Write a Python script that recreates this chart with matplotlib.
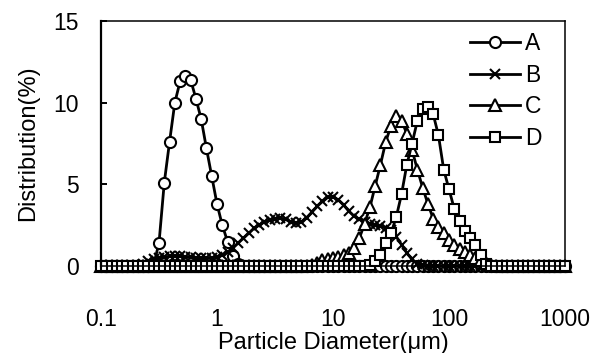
import matplotlib
matplotlib.use("Agg")
import matplotlib.pyplot as plt
from matplotlib.ticker import NullLocator, FixedLocator, FixedFormatter

plt.rcParams['font.family'] = ['Liberation Sans', 'DejaVu Sans']

# Particle diameter grid (um), 22 channels per decade, 0.1 - 1000
diameter = [
    0.1000, 0.1110, 0.1233, 0.1369, 0.1520, 0.1688, 0.1874, 0.2081, 0.2310, 0.2565, 0.2848,
    0.3162, 0.3511, 0.3899, 0.4329, 0.4806, 0.5337, 0.5926, 0.6579, 0.7305, 0.8111, 0.9006,
    1.000, 1.110, 1.233, 1.369, 1.520, 1.688, 1.874, 2.081, 2.310, 2.565, 2.848,
    3.162, 3.511, 3.899, 4.329, 4.806, 5.337, 5.926, 6.579, 7.305, 8.111, 9.006,
    10.00, 11.10, 12.33, 13.69, 15.20, 16.88, 18.74, 20.81, 23.10, 25.65, 28.48,
    31.62, 35.11, 38.99, 43.29, 48.06, 53.37, 59.26, 65.79, 73.05, 81.11, 90.06,
    100.0, 111.0, 123.3, 136.9, 152.0, 168.8, 187.4, 208.1, 231.0, 256.5, 284.8,
    316.2, 351.1, 389.9, 432.9, 480.6, 533.7, 592.6, 657.9, 730.5, 811.1, 900.6,
    1000.0,
]

series_a = ([0.0] * 10 +
            [0.1, 1.4, 5.1, 7.6, 10.0, 11.3, 11.65, 11.4, 10.25, 9.0, 7.2, 5.5, 3.8, 2.5, 1.5, 0.6, 0.1] +
            [0.0] * 62)
series_b = ([0.0] * 8 +
            [0.1, 0.3, 0.45, 0.5, 0.55, 0.6, 0.6, 0.6, 0.55, 0.55, 0.5, 0.5, 0.5, 0.5,
             0.55, 0.65, 0.85, 1.1, 1.4, 1.7, 2.0, 2.3, 2.5, 2.7,
             2.8, 2.9, 2.95, 2.85, 2.7, 2.65, 2.7, 2.95, 3.3, 3.65,
             3.95, 4.2, 4.25, 4.05, 3.75, 3.35, 3.05, 2.85, 2.7, 2.6,
             2.5, 2.45, 2.35, 2.2, 1.8, 1.3, 0.8, 0.4, 0.15, 0.05] +
            [0.0] * 27)
series_c = ([0.0] * 40 +
            [0.05, 0.2, 0.35, 0.45, 0.5, 0.55, 0.65, 0.8, 1.1, 1.7,
             2.6, 3.6, 4.9, 6.2, 7.6, 8.6, 9.2, 8.9, 8.1, 7.1,
             5.9, 4.8, 3.8, 2.9, 2.4, 2.0, 1.6, 1.3, 1.05, 0.85,
             0.65, 0.5, 0.35, 0.2, 0.08] +
            [0.0] * 14)
series_d = ([0.0] * 51 +
            [0.05, 0.3, 0.7, 1.4, 2.0, 3.0, 4.4, 6.2, 7.5, 8.9,
             9.6, 9.75, 9.3, 8.0, 5.9, 4.7, 3.5, 2.75, 2.15, 1.7,
             1.3, 0.65, 0.1] +
            [0.0] * 15)

labels = ['A', 'B', 'C', 'D']
markers = ['o', 'x', '^', 's']
sizes = [8.0, 6.5, 8.5, 7.4]
x_ticks = [0.1, 1, 10, 100, 1000]
x_tick_labels = ['0.1', '1', '10', '100', '1000']
y_ticks = [0, 5, 10, 15]

fig = plt.figure(figsize=(5.92, 3.53), dpi=100)
ax = fig.add_axes([101 / 592, 1 - 266 / 353, 464 / 592, 245 / 353])

for ys, lab, mk, ms in zip([series_a, series_b, series_c, series_d], labels, markers, sizes):
    ax.plot(diameter, ys, color='black', lw=2.0, marker=mk, ms=ms,
            mfc='white', mec='black', mew=1.5, label=lab, clip_on=False)

ax.set_xscale('log')
ax.set_xlim(0.1, 1000)
ax.set_ylim(0, 15)
ax.xaxis.set_major_locator(FixedLocator(x_ticks))
ax.xaxis.set_major_formatter(FixedFormatter(x_tick_labels))
ax.xaxis.set_minor_locator(NullLocator())
ax.set_yticks(y_ticks)

ax.tick_params(axis='x', direction='in', length=4, width=1.2, labelsize=16.5, pad=30)
ax.tick_params(axis='y', direction='in', length=4, width=1.4, labelsize=16.5, pad=16)

for side in ['top', 'right', 'bottom']:
    ax.spines[side].set_linewidth(1.1)
ax.spines['left'].set_linewidth(1.6)

ax.set_xlabel('Particle Diameter(\u03bcm)', fontsize=17, labelpad=1)
ax.set_ylabel('Distribution(%)', fontsize=17, labelpad=10)

leg = ax.legend(loc='upper left', bbox_to_anchor=(0.795, 0.955), frameon=False,
                fontsize=16.5, handlelength=2.2, handletextpad=0.2,
                labelspacing=0.38, borderpad=0, borderaxespad=0, numpoints=1)

fig.savefig('out.png', dpi=100)
